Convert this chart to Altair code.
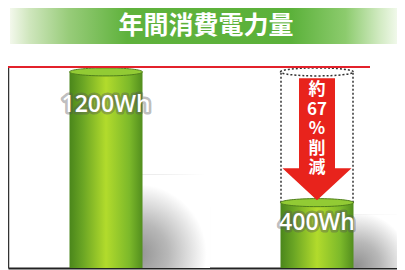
import altair as alt
import pandas as pd

# ---- data ----
CATEGORIES = ["従来品", "本製品"]
VALUES = [1200, 400]
LABELS = ["1200Wh", "400Wh"]
TITLE = "年間消費電力量"
REDUCTION_TEXT = ["約", "67", "%", "削", "減"]
Y_MAX = 1230

bars_df = pd.DataFrame({"cat": CATEGORIES, "value": VALUES, "label": LABELS})
ghost_df = pd.DataFrame({
    "cat": [CATEGORIES[1]],
    "low": [VALUES[1]],
    "high": [VALUES[0]],
    "mid": [(VALUES[0] + VALUES[1]) / 2],
    "txt": [REDUCTION_TEXT],
})
title_df = pd.DataFrame({"t": [TITLE]})

xscale = alt.Scale(domain=CATEGORIES, paddingInner=0.2417, paddingOuter=0.0427, align=1)
yscale = alt.Scale(domain=[0, Y_MAX], nice=False, zero=True)

def X():
    return alt.X("cat:N", scale=xscale, sort=None, title=None)

def Y(field):
    return alt.Y(field, scale=yscale, title=None)

ELLIPSE = ("M-1,0 C-1,-0.061 -0.552,-0.11 0,-0.11 C0.552,-0.11 1,-0.061 1,0 "
           "C1,0.061 0.552,0.11 0,0.11 C-0.552,0.11 -1,0.061 -1,0 Z")
ARROW = ("M-0.295,-1 L0.295,-1 L0.295,0.475 L0.566,0.475 L0,1 "
         "L-0.566,0.475 L-0.295,0.475 Z")

bar_grad = alt.LinearGradient(
    gradient="linear", x1=0, x2=1, y1=0, y2=0,
    stops=[
        alt.GradientStop(color="#4a861b", offset=0),
        alt.GradientStop(color="#6aa524", offset=0.18),
        alt.GradientStop(color="#b2db2c", offset=0.5),
        alt.GradientStop(color="#7cb92a", offset=0.82),
        alt.GradientStop(color="#528e1e", offset=1),
    ],
)
banner_grad = alt.LinearGradient(
    gradient="linear", x1=0, x2=1, y1=0, y2=0,
    stops=[
        alt.GradientStop(color="#f3f8ec", offset=0),
        alt.GradientStop(color="#cfe6bd", offset=0.05),
        alt.GradientStop(color="#98cc7a", offset=0.15),
        alt.GradientStop(color="#5fb23c", offset=0.3),
        alt.GradientStop(color="#5bb13a", offset=0.72),
        alt.GradientStop(color="#8ccb6d", offset=0.86),
        alt.GradientStop(color="#d3ebc4", offset=0.95),
        alt.GradientStop(color="#f6fbf1", offset=1),
    ],
)
shadow_grad = alt.RadialGradient(
    gradient="radial", x1=0.1, y1=0.85, r1=0, x2=0.1, y2=0.85, r2=0.75,
    stops=[
        alt.GradientStop(color="#909090", offset=0),
        alt.GradientStop(color="#b8b8b8", offset=0.45),
        alt.GradientStop(color="#ffffff", offset=1),
    ],
)

banner = alt.Chart(title_df).mark_rect(color=banner_grad).encode(
    x=alt.value(2), x2=alt.value(392), y=alt.value(-63), y2=alt.value(-23)
)
title = alt.Chart(title_df).mark_text(
    font="Noto Sans CJK JP", fontSize=25, fontWeight="bold", color="white", baseline="middle"
).encode(text="t:N", x=alt.value(198), y=alt.value(-41))

shadows = alt.Chart(bars_df).transform_calculate(
    stop="datum.value * 0.3 + 210"
).mark_bar(width=72, xOffset=68, color=shadow_grad).encode(x=X(), y=Y("stop:Q"))

ghost_l = alt.Chart(ghost_df).mark_rule(
    color="#333", strokeWidth=1.5, strokeDash=[2, 2], xOffset=-36
).encode(x=X(), y=Y("low:Q"), y2="high:Q")
ghost_r = alt.Chart(ghost_df).mark_rule(
    color="#333", strokeWidth=1.5, strokeDash=[2, 2], xOffset=36
).encode(x=X(), y=Y("low:Q"), y2="high:Q")
ghost_top = alt.Chart(ghost_df).mark_point(
    shape=ELLIPSE, size=73 * 73, filled=False, stroke="#333", strokeWidth=1.5,
    strokeDash=[2, 2], opacity=1
).encode(x=X(), y=Y("high:Q"))

bars = alt.Chart(bars_df).mark_bar(width=73, color=bar_grad).encode(x=X(), y=Y("value:Q"))
tops = alt.Chart(bars_df).mark_point(
    shape=ELLIPSE, size=73 * 73, filled=True, fill="#92cb34", stroke="#4f7f1c",
    strokeWidth=1, opacity=1
).encode(x=X(), y=Y("value:Q"))

arrow = alt.Chart(ghost_df).mark_point(
    shape=ARROW, size=122 * 122, filled=True, fill="#e8231c", opacity=1, yOffset=2
).encode(x=X(), y=Y("mid:Q"))
arrow_text = alt.Chart(ghost_df).mark_text(
    font="Noto Sans CJK JP", fontSize=17, fontWeight="bold", color="white",
    lineHeight=19.5, baseline="middle", dy=-47
).encode(x=X(), y=Y("mid:Q"), text="txt")

lab_base = alt.Chart(bars_df).transform_calculate(
    ly="datum.value - (datum.value >= 1000 ? 200 : 125)"
)
label_glow = lab_base.mark_text(
    font="Open Sans", fontSize=23, fontWeight=600, baseline="middle", fill="#555",
    fillOpacity=0.5, stroke="#555", strokeWidth=5, strokeOpacity=0.4, strokeJoin="round"
).encode(x=X(), y=Y("ly:Q"), text="label:N")
labels = lab_base.mark_text(
    font="Open Sans", fontSize=23, fontWeight=600, baseline="middle", color="white"
).encode(x=X(), y=Y("ly:Q"), text="label:N")

red = alt.Chart(title_df).mark_rule(color="#e3212b", strokeWidth=2).encode(
    x=alt.value(0), x2=alt.value(362), y=alt.datum(Y_MAX, scale=yscale)
)

chart = alt.layer(
    banner, title, shadows, ghost_l, ghost_r, ghost_top, bars, tops,
    arrow, arrow_text, label_glow, labels, red
).properties(
    width=389, height=201,
    autosize=alt.AutoSizeParams(type="none"),
    padding={"left": 0, "top": 59, "right": 0, "bottom": 2},
).configure_view(stroke=None).configure_axis(
    labels=False, ticks=False, grid=False, title=None, zindex=1
).configure_axisX(domainColor="#222", domainWidth=2).configure_axisY(
    domainColor="#333", domainWidth=1.5
)

chart.save("out.html", embed_options={"renderer": "svg", "actions": False})
